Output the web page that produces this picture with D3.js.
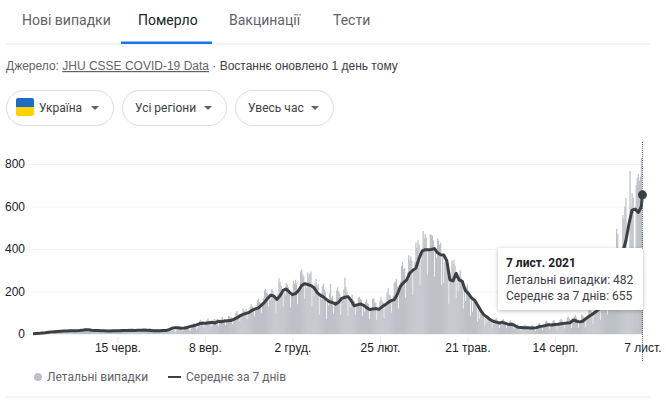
<!DOCTYPE html>
<html>
<head>
<meta charset="utf-8">
<script src="https://cdn.jsdelivr.net/npm/d3@7"></script>
<style>
  html, body { margin: 0; padding: 0; background: #fff; }
  svg { display: block; font-family: Roboto, Arial, sans-serif; }
  .axis path { display: none; }
  .axis text { font-size: 12px; fill: #202124; font-family: "Liberation Sans", Arial, sans-serif; }
  #yAxis line { stroke: #f1f3f4; }
  #xAxis line { stroke: #e8eaed; }
</style>
</head>
<body>
<svg width="666" height="406"></svg>
<script>
// Tabs, filters, texts
const tabs = ["Нові випадки", "Померло", "Вакцинації", "Тести"];
const filters = ["Україна", "Усі регіони", "Увесь час"];
const yTicks = [0, 200, 400, 600, 800];
const xTickDates = ["2020-06-15", "2020-09-08", "2020-12-02", "2021-02-25", "2021-05-21", "2021-08-14", "2021-11-07"];
const xTickLabels = ["15 черв.", "8 вер.", "2 груд.", "25 лют.", "21 трав.", "14 серп.", "7 лист."];

const firstDay = "2020-03-25";

// Daily deaths, one row per week from firstDay
const dailyDeaths = [
  1,1,2,1,3,2,3,
  3,5,6,7,5,4,6,
  8,10,12,9,11,7,9,
  11,14,13,12,15,9,11,
  13,17,15,14,16,10,14,
  15,18,17,14,19,11,13,
  14,17,19,16,18,9,12,
  18,24,27,21,20,12,16,
  16,22,20,19,18,10,14,
  14,19,18,17,16,9,12,
  12,17,16,15,14,8,11,
  13,19,17,15,16,8,12,
  14,22,18,16,17,8,13,
  15,21,26,19,18,9,14,
  16,22,20,19,21,10,13,
  17,24,22,20,23,12,15,
  18,25,28,21,22,11,14,
  16,22,20,19,18,10,13,
  14,19,18,17,16,9,12,
  15,22,24,20,19,10,14,
  22,32,34,27,29,13,19,
  26,36,34,31,33,15,21,
  36,45,52,42,41,22,30,
  46,62,68,58,60,30,42,
  50,66,74,62,58,34,48,
  54,70,68,64,72,36,52,
  58,72,80,66,70,42,58,
  64,85,82,76,80,46,66,
  80,100,108,96,92,60,84,
  92,120,112,108,118,70,96,
  110,128,140,130,124,82,112,
  128,158,166,150,146,100,134,
  168,205,212,196,188,128,172,
  160,212,205,190,180,100,165,
  190,262,245,228,210,130,195,
  185,240,232,222,208,125,190,
  195,250,235,255,240,140,200,
  225,295,305,280,270,165,232,
  215,290,270,285,295,130,222,
  180,240,260,225,235,90,190,
  160,225,238,210,200,70,165,
  135,190,235,170,180,95,142,
  155,205,220,200,190,90,160,
  160,210,265,220,200,85,168,
  125,170,185,160,155,90,134,
  130,170,175,165,160,85,138,
  105,150,165,145,140,70,116,
  110,165,170,150,145,65,118,
  120,155,172,160,150,75,125,
  145,195,215,185,180,100,155,
  180,240,245,260,225,120,190,
  245,320,340,305,310,170,258,
  290,370,350,365,345,185,300,
  340,430,405,440,420,230,350,
  385,485,450,470,455,280,395,
  395,470,465,462,440,270,400,
  360,450,440,420,430,230,372,
  240,340,365,350,330,140,250,
  260,345,330,350,320,170,268,
  200,275,300,265,255,120,210,
  155,220,235,205,195,85,165,
  105,150,145,140,130,58,110,
  70,105,115,100,90,40,74,
  55,82,78,72,70,30,56,
  50,70,76,66,60,28,52,
  48,66,70,60,55,27,48,
  42,60,64,56,52,24,44,
  30,42,46,40,36,16,32,
  28,40,44,38,34,15,30,
  26,40,42,36,32,14,28,
  33,48,52,44,40,17,35,
  40,58,62,52,48,22,42,
  44,60,66,58,52,24,46,
  48,66,72,64,58,26,50,
  55,78,82,72,66,28,58,
  60,84,90,78,70,30,62,
  62,92,88,80,74,32,65,
  88,120,128,110,100,46,90,
  115,155,162,145,130,65,118,
  165,225,235,210,190,92,170,
  235,320,340,300,270,130,240,
  494,470,380,340,250,180,560,
  540,600,641,400,300,395,767,
  600,663,640,400,380,700,734,
  753,720,740,828,482
];

// 7 day average read every third day, last point is the final day
const avgEvery3Days = [
  1,2,3,5,6,8,10,11,12,13,
  14,14,15,15,15,16,18,20,20,18,
  17,16,15,15,14,14,15,15,15,16,
  17,16,18,17,18,18,19,18,17,15,
  15,15,16,16,20,27,30,29,27,28,
  31,36,39,43,49,51,51,53,55,52,
  60,58,61,62,63,69,76,85,92,97,
  102,112,118,123,136,150,168,183,178,163,
  180,205,212,197,185,190,205,228,237,233,
  228,218,195,183,175,163,152,148,140,150,
  168,173,176,158,133,137,141,136,124,115,
  118,120,116,128,137,148,157,162,187,225,
  242,255,287,300,310,355,390,397,397,398,
  402,382,373,372,345,255,250,285,255,248,
  205,190,170,158,135,110,90,80,68,60,
  56,52,55,50,45,46,40,32,31,29,
  29,28,28,30,35,37,40,44,42,45,
  46,48,50,52,53,66,60,57,60,72,
  82,92,102,115,122,145,170,195,230,280,
  340,385,440,520,583,588,572,600
];
const avgLast = 655;

const parseDay = d3.utcParse("%Y-%m-%d");
const start = parseDay(firstDay);
const dayAt = i => d3.utcDay.offset(start, i);

const bars = dailyDeaths.map((v, i) => ({ date: dayAt(i), value: v }));
const avg = avgEvery3Days.map((v, i) => ({ date: dayAt(i * 3), value: v }));
const lastDay = bars[bars.length - 1].date;
avg.push({ date: lastDay, value: avgLast });

const svg = d3.select("svg");

const x = d3.scaleUtc().domain([start, lastDay]).range([33, 642.4]);
const y = d3.scaleLinear().domain([0, 800]).range([334, 164]);

// Tabs
const tabX = [22, 138, 229, 333];
svg.selectAll("text.tab")
  .data(tabs)
  .enter()
  .append("text")
  .attr("class", "tab")
  .attr("x", (d, i) => tabX[i])
  .attr("y", 25)
  .attr("font-size", 14)
  .attr("fill", (d, i) => (i === 1 ? "#202124" : "#5f6368"))
  .text(d => d);
svg.append("line").attr("x1", 6).attr("x2", 650).attr("y1", 44).attr("y2", 44).attr("stroke", "#e8eaed");
svg.append("rect").attr("x", 121).attr("y", 41.5).attr("width", 91).attr("height", 2.5).attr("fill", "#1a73e8");

// Source line
const source = svg.append("text")
  .attr("x", 6)
  .attr("y", 70)
  .attr("font-size", 12)
  .attr("font-family", "'Liberation Sans', Arial, sans-serif")
  .attr("fill", "#3c4043");
source.append("tspan").attr("fill", "#5f6368").text("Джерело: ");
source.append("tspan").attr("fill", "#5f6368").attr("text-decoration", "underline").text("JHU CSSE COVID-19 Data");
source.append("tspan").text(" · Востаннє оновлено 1 день тому");

// Filter buttons
const btnX = [6, 122, 235];
const btnW = [107, 104, 98];
const btnText = [39, 135, 248];
const caretX = [95, 208, 315];
const btn = svg.selectAll("g.btn")
  .data(filters)
  .enter()
  .append("g")
  .attr("class", "btn");
btn.append("rect")
  .attr("x", (d, i) => btnX[i] + 0.5)
  .attr("y", 90.5)
  .attr("width", (d, i) => btnW[i])
  .attr("height", 35)
  .attr("rx", 17.5)
  .attr("fill", "#fff")
  .attr("stroke", "#dadce0");
btn.append("text")
  .attr("x", (d, i) => btnText[i])
  .attr("y", 112)
  .attr("font-size", 12)
  .attr("fill", "#3c4043")
  .text(d => d);
btn.append("path")
  .attr("d", (d, i) => `M${caretX[i] - 4},106 h8 l-4,4 z`)
  .attr("fill", "#5f6368");

// Flag
svg.append("clipPath").attr("id", "flagClip")
  .append("rect").attr("x", 16).attr("y", 98).attr("width", 18).attr("height", 18).attr("rx", 2);
const flag = svg.append("g").attr("clip-path", "url(#flagClip)");
flag.append("rect").attr("x", 16).attr("y", 98).attr("width", 18).attr("height", 9).attr("fill", "#1e6bc6");
flag.append("rect").attr("x", 16).attr("y", 107).attr("width", 18).attr("height", 9).attr("fill", "#fbd400");

// Axes
svg.append("g")
  .attr("id", "yAxis")
  .attr("class", "axis")
  .attr("transform", "translate(26,0)")
  .call(d3.axisLeft(y).tickValues(yTicks).tickSize(-617).tickPadding(1).tickFormat(d3.format("d")));

const xAxis = d3.axisBottom(x)
  .tickValues(xTickDates.map(parseDay))
  .tickSize(6)
  .tickFormat((d, i) => xTickLabels[i]);
svg.append("g")
  .attr("id", "xAxis")
  .attr("class", "axis")
  .attr("transform", "translate(0,337)")
  .call(xAxis)
  .selectAll("text")
  .attr("y", 15)
  .attr("dy", 0);

// Daily bars
svg.append("g")
  .selectAll("rect")
  .data(bars)
  .enter()
  .append("rect")
  .attr("x", d => x(d.date) - 0.62)
  .attr("width", 1.25)
  .attr("y", d => y(d.value))
  .attr("height", d => y(0) - y(d.value))
  .attr("fill", "#bdc1c6");

// 7 day line
const line = d3.line().x(d => x(d.date)).y(d => y(d.value));
svg.append("path")
  .datum(avg)
  .attr("d", line)
  .attr("fill", "none")
  .attr("stroke", "#3c4043")
  .attr("stroke-width", 3)
  .attr("stroke-linejoin", "round");

// Hover marker
svg.append("line")
  .attr("x1", x(lastDay))
  .attr("x2", x(lastDay))
  .attr("y1", 142)
  .attr("y2", 362)
  .attr("stroke", "#5f6368")
  .attr("stroke-dasharray", "1,1");
svg.append("circle")
  .attr("cx", x(lastDay))
  .attr("cy", y(avgLast))
  .attr("r", 4.5)
  .attr("fill", "#3c4043");

// Tooltip
svg.append("rect")
  .attr("x", 498)
  .attr("y", 248)
  .attr("width", 145)
  .attr("height", 62)
  .attr("rx", 1.5)
  .attr("fill", "#fff")
  .style("filter", "drop-shadow(0 1px 2px rgba(60,64,67,0.35))");
const tipLines = ["7 лист. 2021", "Летальні випадки: 482", "Середнє за 7 днів: 655"];
const tipY = [267, 284, 300];
svg.selectAll("text.tip")
  .data(tipLines)
  .enter()
  .append("text")
  .attr("class", "tip")
  .attr("x", 506)
  .attr("y", (d, i) => tipY[i])
  .attr("font-size", 12)
  .attr("font-weight", (d, i) => (i === 0 ? "bold" : "normal"))
  .attr("fill", (d, i) => (i === 0 ? "#202124" : "#3c4043"))
  .text(d => d);

// Legend
svg.append("circle").attr("cx", 38).attr("cy", 377).attr("r", 4).attr("fill", "#bdc1c6");
svg.append("text").attr("x", 47).attr("y", 381).attr("font-size", 12).attr("fill", "#5f6368").text("Летальні випадки");
svg.append("line").attr("x1", 168).attr("x2", 181).attr("y1", 377).attr("y2", 377).attr("stroke", "#3c4043").attr("stroke-width", 2);
svg.append("text").attr("x", 186).attr("y", 381).attr("font-size", 12).attr("fill", "#5f6368").text("Середнє за 7 днів");

svg.append("line").attr("x1", 6).attr("x2", 650).attr("y1", 397).attr("y2", 397).attr("stroke", "#e8eaed");
</script>
</body>
</html>
